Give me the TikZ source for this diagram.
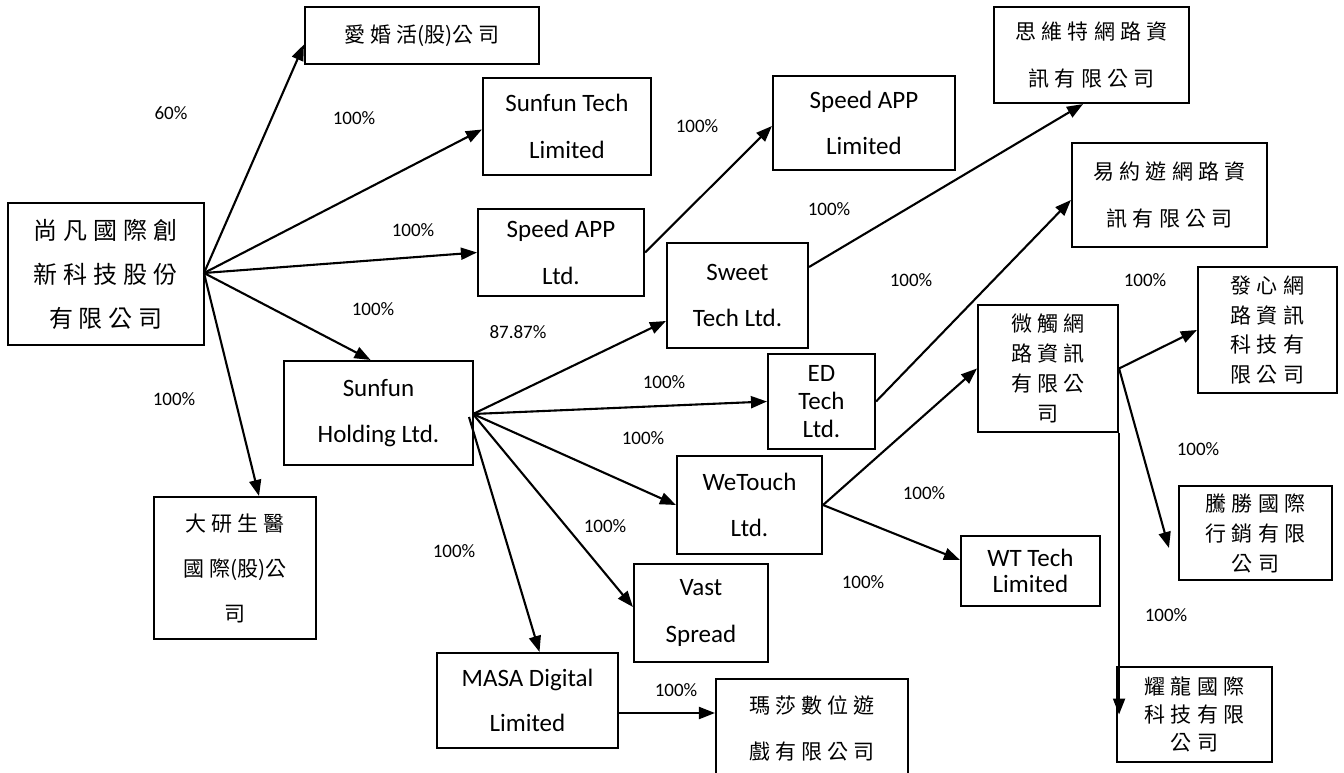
\documentclass[tikz,border=0pt]{standalone}
\usepackage{fontspec}
\setmainfont{Carlito}
\newfontfamily\cjk[LetterSpace=24]{Noto Sans CJK TC}
\newfontfamily\cjkA[LetterSpace=25]{Noto Sans CJK TC}
\newfontfamily\cjkN{Noto Sans CJK TC}
\usetikzlibrary{arrows.meta,calc}
\tikzset{
  box/.style 2 args={draw, line width=2.1pt, inner sep=0pt, align=center, minimum width=#1pt, minimum height=#2pt},
  en/.style={font=\fontsize{25}{#1}\selectfont},
  ch/.style={font=\cjk\fontsize{21}{#1}\selectfont},
  chA/.style={font=\cjkA\fontsize{24}{#1}\selectfont},
  lb/.style={font=\fontsize{19}{22}\selectfont, inner sep=0pt},
  ar/.style={-{Triangle[length=16pt,width=12pt]}, line width=2.1pt}
}
\begin{document}
\begin{tikzpicture}[x=1pt,y=-1pt]
\fill[white] (0,0) rectangle (1344,773);
\useasboundingbox (0,0) rectangle (1344,773);
% boxes
\node[box={196}{142}, chA=44] (A) at (106,274) {尚凡國際創\\新科技股份\\有限公司};
\node[box={234}{57}, ch=30] (ai) at (422,35.5) {愛婚活{\cjkN(}股{\cjkN)}公司};
\node[box={168}{97}, en=47] (sft) at (567,126.5) {Sunfun Tech\\Limited};
\node[box={166}{87}, en=47] (spl) at (561,252.5) {Speed APP\\Ltd.};
\node[box={182}{94}, en=46] (spm) at (864,123) {Speed APP\\Limited};
\node[box={195}{96}, ch=47] (swt) at (1091.5,55) {思維特網路資\\訊有限公司};
\node[box={195}{104}, ch=47] (yyy) at (1169.5,195) {易約遊網路資\\訊有限公司};
\node[box={141}{105}, en=46] (sweet) at (737.5,295.5) {Sweet\\Tech Ltd.};
\node[box={140}{127}, ch=30] (wc) at (1048,368.5) {微觸網\\路資訊\\有限公\\司};
\node[box={139}{126}, ch=29.7] (fx) at (1267.5,330) {發心網\\路資訊\\科技有\\限公司};
\node[box={189}{104}, en=46] (sh) at (378.5,413) {Sunfun\\Holding Ltd.};
\node[box={107}{95}, en=28] (ed) at (821.5,401.5) {ED\\Tech\\Ltd.};
\node[box={145}{98}, en=46] (wt) at (749.5,505) {WeTouch\\Ltd.};
\node[box={139}{70}, en=26] (wtt) at (1030.5,571) {WT Tech\\Limited};
\node[box={153}{94}, ch=30] (ts) at (1255.5,533) {騰勝國際\\行銷有限\\公司};
\node[box={155}{95}, ch=28] (yl) at (1194.5,714.5) {耀龍國際\\科技有限\\公司};
\node[box={162}{142}, ch=45] (dy) at (235,568) {大研生醫\\國際{\cjkN(}股{\cjkN)}公\\司};
\node[box={181}{95}, en=45] (masa) at (527.5,700.5) {MASA Digital\\Limited};
\node[box={192}{98}, ch=46] (ms) at (812,728) {瑪莎數位遊\\戲有限公司};
\node[box={134}{98}, en=47] (vs) at (701,613) {Vast\\Spread};
% connectors
\coordinate (Aout) at (204,273);
\coordinate (SHout) at (473,414);
\coordinate (SHm) at (469,417);
\draw[ar] (Aout) -- ([yshift=-9pt]ai.west);
\draw[ar] (Aout) -- ([yshift=-3pt]sft.west);
\draw[ar] (Aout) -- (spl.west);
\draw[ar] (Aout) -- ([xshift=-8pt]sh.north);
\draw[ar] (Aout) -- ([xshift=24pt]dy.north);
\draw[ar] (spl.east) -- ([yshift=-3pt]spm.west);
\draw[ar] ([yshift=28.5pt]sweet.east) -- ([xshift=-8.5pt]swt.south);
\draw[ar] (ed.east) -- ([yshift=-5pt]yyy.west);
\draw[ar] (SHout) -- ([yshift=-25.5pt]sweet.west);
\draw[ar] (SHout) -- (ed.west);
\draw[ar] (SHout) -- (wt.west);
\draw[ar] (SHout) -- ([yshift=6pt]vs.west);
\draw[ar] (SHm) -- ([xshift=12pt]masa.north);
\draw[ar] ([yshift=-12.5pt]masa.east) -- ([yshift=15pt]ms.west);
\draw[ar] (wt.east) -- (wc.west);
\draw[ar] (wt.east) -- ([yshift=11pt]wtt.west);
\draw[ar] (wc.east) -- (fx.west);
\draw[ar] (wc.east) -- ([xshift=-9pt,yshift=-15pt]ts.west);
\draw[ar] (wc.south east) -- (wc.south east |- yl.west);
% labels
\node[lb] (l1) at (171,113) {60\%};
\node[lb] (l2) at (354,118) {100\%};
\node[lb] (l3) at (413,230) {100\%};
\node[lb] (l4) at (373,309) {100\%};
\node[lb] (l5) at (518,332) {87.87\%};
\node[lb] (l6) at (174,399) {100\%};
\node[lb] (l7) at (697,126) {100\%};
\node[lb] (l8) at (829,209) {100\%};
\node[lb] (l9) at (911,280) {100\%};
\node[lb] (l10) at (1145,280) {100\%};
\node[lb] (l11) at (664,382) {100\%};
\node[lb] (l12) at (643,438) {100\%};
\node[lb] (l13) at (605,526) {100\%};
\node[lb] (l14) at (454,551) {100\%};
\node[lb] (l15) at (924,493) {100\%};
\node[lb] (l16) at (863,582) {100\%};
\node[lb] (l17) at (1198,449) {100\%};
\node[lb] (l18) at (1166,615) {100\%};
\node[lb] (l19) at (676,690) {100\%};
\end{tikzpicture}
\end{document}
